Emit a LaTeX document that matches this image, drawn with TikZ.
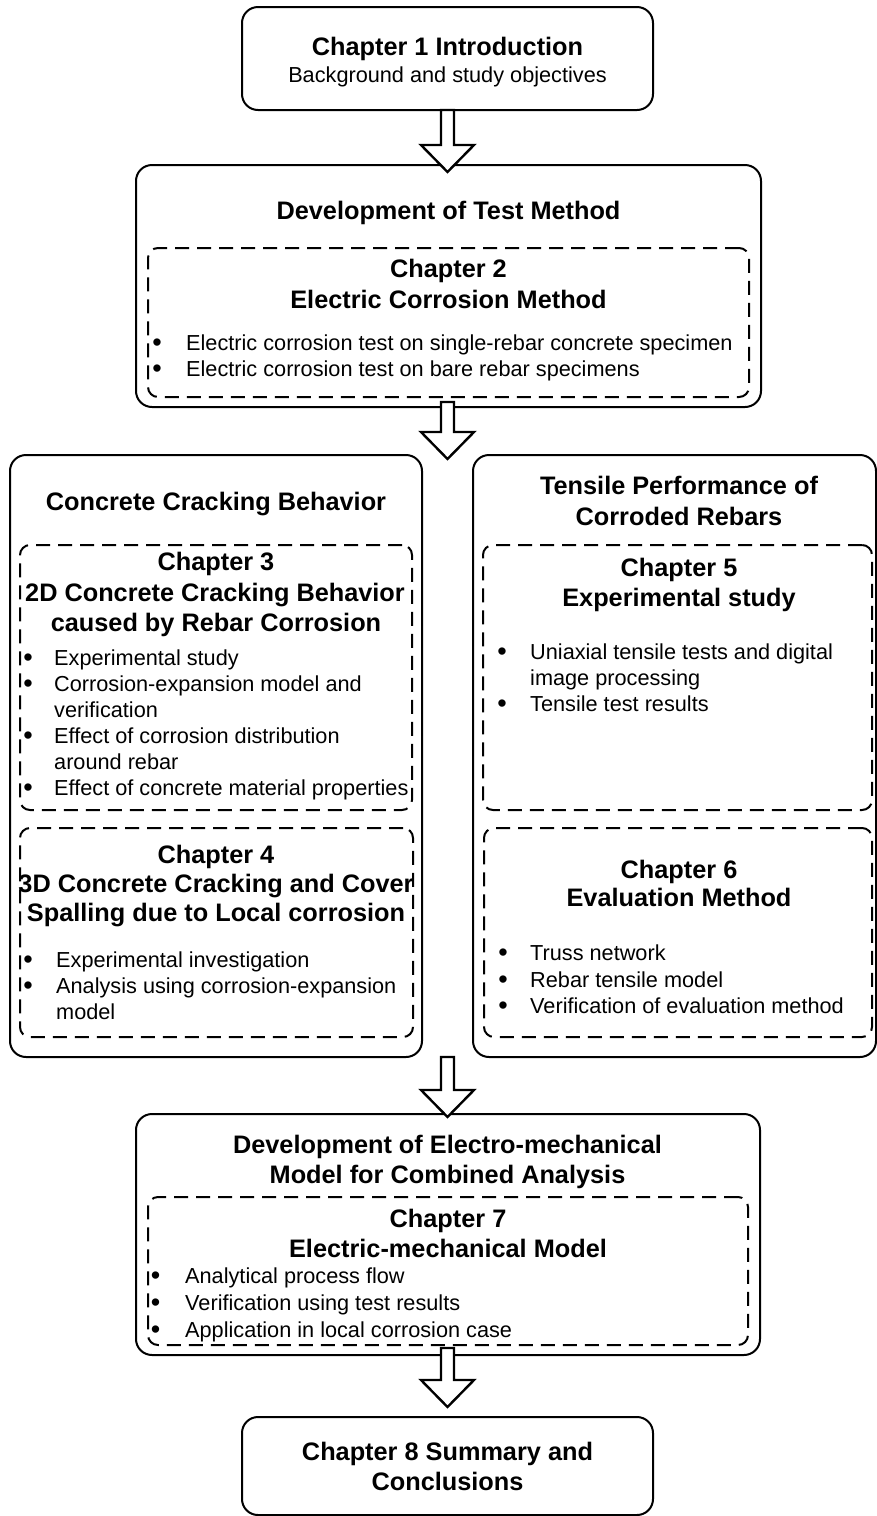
\documentclass[tikz,border=0pt]{standalone}
\usepackage{fontspec}
\setmainfont{Liberation Sans}
\tikzset{
  outerbox/.style={draw, line width=2pt, rounded corners=16pt, inner sep=0pt, outer sep=0pt},
  dashbox/.style={draw, line width=2pt, dash pattern=on 14pt off 8pt, rounded corners=10pt, inner sep=0pt, outer sep=0pt},
  ttl/.style={font=\fontsize{25.3}{30}\selectfont\bfseries, inner sep=0pt, anchor=base},
  txt/.style={font=\fontsize{21.7}{26}\selectfont, inner sep=0pt, anchor=base west},
  ctxt/.style={font=\fontsize{21.7}{26}\selectfont, inner sep=0pt, anchor=base},
  bul/.style={font=\fontsize{27}{26}\selectfont, inner sep=0pt, anchor=base, yshift=-1.8pt},
  pics/harrow/.style={code={
    \draw[line width=2.4pt, fill=white, line join=miter]
      (-6.5,0) -- (-6.5,#1-27) -- (-26.5,#1-27) -- (0,#1) -- (26.5,#1-27) -- (6.5,#1-27) -- (6.5,0) -- cycle;
  }}
}
\begin{document}
\begin{tikzpicture}[x=1pt,y=-1pt]
\useasboundingbox (0,0) rectangle (877,1516);
\fill[white] (0,0) rectangle (877,1516);

% boxes
\node[outerbox, minimum width=411pt, minimum height=103pt] (b1) at (447.5,58.5) {};
\node[outerbox, minimum width=625pt, minimum height=242pt] (b2) at (448.5,286) {};
\node[dashbox, minimum width=601pt, minimum height=149pt] (d2) at (448.5,322.5) {};
\node[outerbox, minimum width=412pt, minimum height=602pt] (bL) at (216,756) {};
\node[dashbox, minimum width=392pt, minimum height=265pt] (d3) at (216,677.5) {};
\node[dashbox, minimum width=393pt, minimum height=209pt] (d4) at (216.5,932.5) {};
\node[outerbox, minimum width=403pt, minimum height=602pt] (bR) at (674.5,756) {};
\node[dashbox, minimum width=389pt, minimum height=265pt] (d5) at (677.5,677.5) {};
\node[dashbox, minimum width=388pt, minimum height=209pt] (d6) at (678,932.5) {};
\node[outerbox, minimum width=624pt, minimum height=241pt] (b7) at (448,1234.5) {};
\node[dashbox, minimum width=600pt, minimum height=148pt] (d7) at (448,1271) {};
\node[outerbox, minimum width=411pt, minimum height=98pt] (b8) at (447.5,1466) {};

% box 1
\node[ttl] (t1a) at (447.5,55) {Chapter 1 Introduction};
\node[ctxt] (t1b) at (447.5,82) {Background and study objectives};

% box 2
\node[ttl] (t2a) at (448.5,219) {Development of Test Method};
\node[ttl] (t2b) at (448.5,277) {Chapter 2};
\node[ttl] (t2c) at (448.5,308) {Electric Corrosion Method};
\node[bul] (u2a) at (157,350) {•};
\node[txt] (s2a) at (186,350) {Electric corrosion test on single-rebar concrete specimen};
\node[bul] (u2b) at (157,376) {•};
\node[txt] (s2b) at (186,376) {Electric corrosion test on bare rebar specimens};

% left column
\node[ttl] (tLa) at (216,510) {Concrete Cracking Behavior};
\node[ttl] (t3a) at (216,570) {Chapter 3};
\node[ttl] (t3b) at (215,601) {2D Concrete Cracking Behavior};
\node[ttl] (t3c) at (216,631) {caused by Rebar Corrosion};
\node[bul] (u3a) at (28,665) {•};
\node[txt] (s3a) at (54,665) {Experimental study};
\node[bul] (u3b) at (28,691) {•};
\node[txt] (s3b) at (54,691) {Corrosion-expansion model and};
\node[txt] (s3c) at (54,717) {verification};
\node[bul] (u3d) at (28,743) {•};
\node[txt] (s3d) at (54,743) {Effect of corrosion distribution};
\node[txt] (s3e) at (54,769) {around rebar};
\node[bul] (u3f) at (28,795) {•};
\node[txt] (s3f) at (54,795) {Effect of concrete material properties};

\node[ttl] (t4a) at (216,863) {Chapter 4};
\node[ttl] (t4b) at (216,892) {3D Concrete Cracking and Cover};
\node[ttl] (t4c) at (216,921) {Spalling due to Local corrosion};
\node[bul] (u4a) at (28,967) {•};
\node[txt] (s4a) at (56,967) {Experimental investigation};
\node[bul] (u4b) at (28,993) {•};
\node[txt] (s4b) at (56,993) {Analysis using corrosion-expansion};
\node[txt] (s4c) at (56,1019) {model};

% right column
\node[ttl] (tRa) at (679,494) {Tensile Performance of};
\node[ttl] (tRb) at (679,525) {Corroded Rebars};
\node[ttl] (t5a) at (679,576) {Chapter 5};
\node[ttl] (t5b) at (679,606) {Experimental study};
\node[bul] (u5a) at (502,659) {•};
\node[txt] (s5a) at (530,659) {Uniaxial tensile tests and digital};
\node[txt] (s5b) at (530,685) {image processing};
\node[bul] (u5c) at (502,711) {•};
\node[txt] (s5c) at (530,711) {Tensile test results};

\node[ttl] (t6a) at (679,878) {Chapter 6};
\node[ttl] (t6b) at (679,906) {Evaluation Method};
\node[bul] (u6a) at (503,960) {•};
\node[txt] (s6a) at (530,960) {Truss network};
\node[bul] (u6b) at (503,987) {•};
\node[txt] (s6b) at (530,987) {Rebar tensile model};
\node[bul] (u6c) at (503,1013) {•};
\node[txt] (s6c) at (530,1013) {Verification of evaluation method};

% box 7
\node[ttl] (t7a) at (447.5,1153) {Development of Electro-mechanical};
\node[ttl] (t7b) at (447.5,1183) {Model for Combined Analysis};
\node[ttl] (t7c) at (448,1227) {Chapter 7};
\node[ttl] (t7d) at (448,1257) {Electric-mechanical Model};
\node[bul] (u7a) at (155.5,1283) {•};
\node[txt] (s7a) at (185,1283) {Analytical process flow};
\node[bul] (u7b) at (155.5,1310) {•};
\node[txt] (s7b) at (185,1310) {Verification using test results};
\node[bul] (u7c) at (155.5,1337) {•};
\node[txt] (s7c) at (185,1337) {Application in local corrosion case};

% box 8
\node[ttl] (t8a) at (447.5,1460) {Chapter 8 Summary and};
\node[ttl] (t8b) at (447.5,1490) {Conclusions};

% hollow arrows
\pic at (b1.south) {harrow=62};
\pic at ([xshift=-1pt,yshift=5pt]b2.south) {harrow=57};
\pic at ([xshift=-0.5pt]b7.north |- bL.south) {harrow=60};
\pic at ([xshift=-0.5pt,yshift=7pt]b7.south) {harrow=59};
\end{tikzpicture}
\end{document}
